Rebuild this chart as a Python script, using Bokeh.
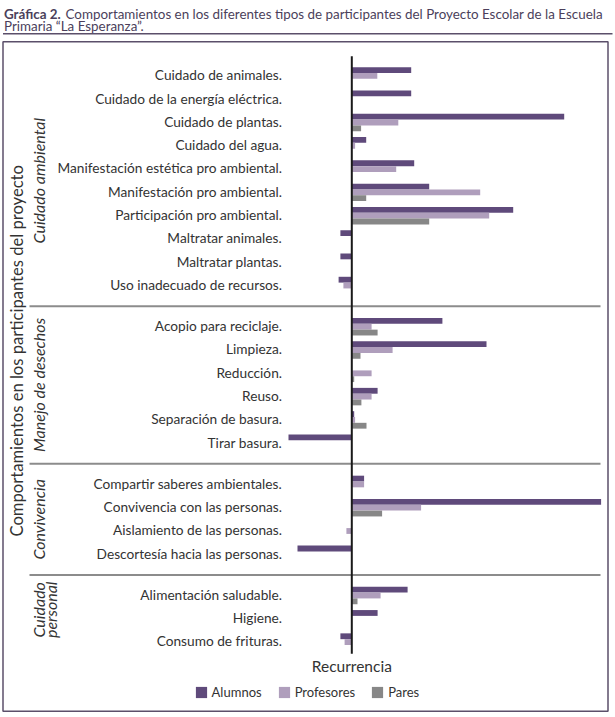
import numpy as np
from bokeh.plotting import figure
from bokeh.models import ColumnDataSource, FactorRange, Range1d, Legend, LegendItem
from bokeh.transform import dodge
from bokeh.core.properties import value
from bokeh.embed import file_html
from bokeh.resources import INLINE

# ---------------- data (top to bottom, as in the reference) ----------------
groups = ["Cuidado ambiental", "Manejo de desechos", "Convivencia", "Cuidado personal"]

categories = [
    "Cuidado de animales.", "Cuidado de la energía eléctrica.", "Cuidado de plantas.",
    "Cuidado del agua.", "Manifestación estética pro ambiental.", "Manifestación pro ambiental.",
    "Participación pro ambiental.", "Maltratar animales.", "Maltratar plantas.",
    "Uso inadecuado de recursos.",
    "Acopio para reciclaje.", "Limpieza.", "Reducción.", "Reuso.", "Separación de basura.",
    "Tirar basura.",
    "Compartir saberes ambientales.", "Convivencia con las personas.",
    "Aislamiento de las personas.", "Descortesía hacia las personas.",
    "Alimentación saludable.", "Higiene.", "Consumo de frituras.",
]
category_group = (["Cuidado ambiental"] * 10 + ["Manejo de desechos"] * 6 +
                  ["Convivencia"] * 4 + ["Cuidado personal"] * 3)

alumnos = [19.8, 19.8, 70.8, 4.8, 20.8, 25.8, 53.8, -3.8, -3.8, -4.4,
           30.2, 44.9, 0.0, 8.6, 0.8, -21.1,
           4.1, 83.1, 0.0, -18.1,
           18.6, 8.6, -3.8]
profesores = [8.5, 0.0, 15.5, 1.1, 14.8, 42.8, 45.8, 0.0, 0.0, -2.8,
              6.6, 13.6, 6.6, 6.6, 1.1, 0.0,
              4.1, 23.1, -1.8, 0.0,
              9.6, 0.0, -2.4]
pares = [0.0, 0.0, 3.1, 0.0, 0.0, 4.8, 25.8, 0.0, 0.0, 0.0,
         8.6, 2.9, 0.8, 3.2, 4.9, 0.0,
         0.0, 10.1, 0.0, 0.0,
         1.9, 0.0, 0.0]

series_names = ["Alumnos", "Profesores", "Pares"]
series_colors = ["#5f4a7b", "#af9ebc", "#878787"]

title_bold = "Gráfica 2."
title_rest = "Comportamientos en los diferentes tipos de participantes del Proyecto Escolar de la Escuela"
title_line2 = "Primaria “La Esperanza”."
y_title = "Comportamientos en los participantes del proyecto"
x_title = "Recurrencia"

# ---------------- layout helpers (page px) ----------------
W, H = 615, 717
ZERO_X = 351.3         # x of the zero line
PX_PER_UNIT = 3.0      # px per data unit

ROW_PX = 23.29         # px between rows
TOP_ROW_Y = 76.1       # y of first row
GROUP_PAD = 0.77
n = len(categories)
L = n + (len(groups) - 1) * GROUP_PAD
RP = (H / ROW_PX - L) / 2.0
K = H / (L + 2 * RP)
Y_END = L + RP


def rx(px):
    return (px - ZERO_X) / PX_PER_UNIT


def ry(py):
    return (L - 0.5) - (py - TOP_ROW_Y) / ROW_PX


def canvas_y(py):
    return (Y_END - ry(py)) * K


factors = list(reversed(list(zip(category_group, categories))))

x_range = Range1d(rx(0), rx(W))
y_range = FactorRange(factors=factors, factor_padding=0.0, group_padding=GROUP_PAD,
                      range_padding=RP, range_padding_units="absolute")

p = figure(width=W, height=H, x_range=x_range, y_range=y_range,
           x_axis_location=None, y_axis_location=None,
           toolbar_location=None, output_backend="svg", min_border=0)
p.outline_line_color = None
p.grid.visible = False
p.background_fill_color = "white"

rows = [(g, c) for g, c in zip(category_group, categories)]
src = ColumnDataSource(dict(y=rows, alumnos=alumnos, profesores=profesores, pares=pares))

BAR_H = 0.25
renderers = []
for name, col, off, color in zip(series_names, ["alumnos", "profesores", "pares"],
                                  [BAR_H, 0.0, -BAR_H], series_colors):
    r = p.hbar(y=dodge("y", off, range=p.y_range), left=0, right=col, height=BAR_H,
               source=src, fill_color=color, line_color=None)
    renderers.append(r)

# group separators (midway between groups)
s = 0.5
bounds = []
order_groups = list(reversed(groups))
for gi, g in enumerate(order_groups):
    cnt = category_group.count(g)
    last = s + cnt - 1
    if gi < len(order_groups) - 1:
        bounds.append(last + 0.5 + GROUP_PAD / 2)
    s = last + 1 + GROUP_PAD
p.segment(x0=[rx(29)] * len(bounds), x1=[rx(600)] * len(bounds), y0=bounds, y1=bounds,
          line_color="#8c8c8c", line_width=2)

# zero line
p.segment(x0=[0], x1=[0], y0=[ry(56.5)], y1=[ry(654)], line_color="#1a1a1a", line_width=2)

# frame box and title rule
BOX = "#5b4f6a"
p.quad(left=[rx(2.5)], right=[rx(607.5)], top=[ry(42)], bottom=[ry(711.5)],
       fill_color=None, line_color=BOX, line_width=1.5)
p.segment(x0=[rx(2.5)], x1=[rx(612)], y0=[ry(34)], y1=[ry(34)], line_color=BOX, line_width=1.5)

# title
TFONT = value("Lato")
TCOL = "#4b3f5b"
TSIZE = "13.4px"
p.text(x=[rx(3.5)], y=[ry(13.8)], text=[title_bold], text_font=TFONT, text_font_style="bold",
       text_font_size=TSIZE, text_color=TCOL, text_align="left", text_baseline="alphabetic")
p.text(x=[rx(65)], y=[ry(13.8)], text=[title_rest], text_font=TFONT,
       text_font_size=TSIZE, text_color=TCOL, text_align="left", text_baseline="alphabetic")
p.text(x=[rx(3.5)], y=[ry(25.8)], text=[title_line2], text_font=TFONT,
       text_font_size=TSIZE, text_color=TCOL, text_align="left", text_baseline="alphabetic")

LFONT = value("Lato")
LCOL = "#333333"
# category labels
p.text(x=rx(281.5), y=dodge("y", 0.05, range=p.y_range), text="cat",
       source=ColumnDataSource(dict(y=rows, cat=categories)),
       text_font=LFONT, text_font_size="13.7px", text_color=LCOL,
       text_align="right", text_baseline="middle")

# group labels
p.text(x=[rx(38)] * 3, y=groups[:3], text=groups[:3], angle=np.pi / 2,
       text_font=LFONT, text_font_style="italic", text_font_size="16px", text_color=LCOL,
       text_align="center", text_baseline="middle")
p.text(x=[rx(37.5), rx(50)], y=[ry(610), ry(610)], text=["Cuidado", "personal"], angle=np.pi / 2,
       text_font=LFONT, text_font_style="italic", text_font_size="16px", text_color=LCOL,
       text_align="center", text_baseline="middle")

# axis titles
p.text(x=[rx(16)], y=[ry(351)], text=[y_title], angle=np.pi / 2,
       text_font=LFONT, text_font_size="16.6px", text_color=LCOL,
       text_align="center", text_baseline="middle")
p.text(x=[0], y=[ry(666)], text=[x_title],
       text_font=LFONT, text_font_size="15.5px", text_color=LCOL,
       text_align="center", text_baseline="middle")

# legend
legend = Legend(items=[LegendItem(label=nm, renderers=[r]) for nm, r in zip(series_names, renderers)],
                orientation="horizontal",
                location=(193.6, H - canvas_y(701)),
                glyph_width=14, glyph_height=14, label_height=14, label_standoff=4,
                spacing=15, padding=0, margin=0,
                label_text_font="Lato", label_text_font_size="13px", label_text_color=LCOL,
                background_fill_alpha=0, border_line_alpha=0)
p.add_layout(legend)

open("out.html", "w").write(file_html(p, INLINE))
